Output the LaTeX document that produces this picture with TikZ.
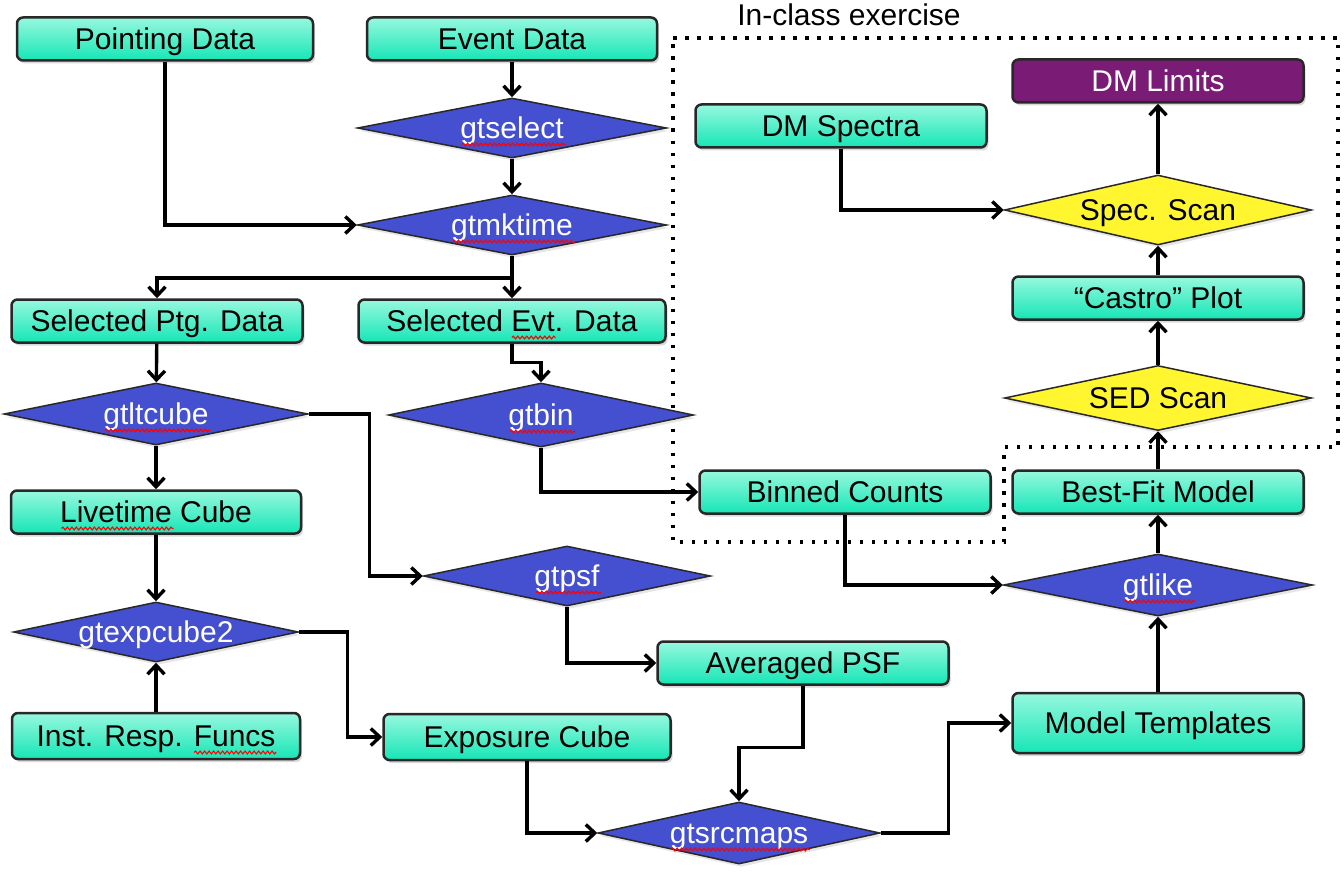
\documentclass[tikz,border=0pt]{standalone}
\usepackage{fontspec}
\setmainfont{Liberation Sans}
\usetikzlibrary{arrows.meta,positioning,shapes.geometric,shadows,decorations.pathmorphing}

\definecolor{boxtop}{RGB}{150,248,222}
\definecolor{boxbot}{RGB}{22,230,182}
\definecolor{toolblue}{RGB}{68,80,208}
\definecolor{scanyellow}{RGB}{255,246,48}
\definecolor{limitpurple}{RGB}{122,28,118}
\definecolor{edgegray}{RGB}{40,40,40}

\newcommand\labelfont{\fontsize{30}{32}\selectfont}
% red wavy spell-check mark under a word of a node
\newcommand\spellmark[3]{%
  \node[spellbox,anchor=base west] (pre) at (#1.text) {\phantom{#2}};
  \node[spellbox,anchor=base west] (word) at (pre.base east) {\phantom{#3}};
  \draw[spellwave] ([yshift=-6pt]word.base west) -- ([yshift=-6pt]word.base east);}

\begin{document}
\begin{tikzpicture}[
    x=1pt,y=-1pt,
    box/.style={draw=edgegray,line width=2.5pt,rounded corners=6pt,top color=boxtop,bottom color=boxbot,minimum width=291pt,minimum height=43pt,inner sep=0pt,text height=21pt,text depth=0pt,font=\labelfont,drop shadow={shadow xshift=2pt,shadow yshift=-3pt,opacity=.3}},
    tool/.style={diamond,aspect=5,draw=edgegray,line width=1.5pt,fill=toolblue,text=white,inner sep=0pt,text height=21pt,text depth=0pt,minimum width=309pt,minimum height=60pt,font=\labelfont,drop shadow={shadow xshift=2pt,shadow yshift=-3pt,opacity=.2}},
    scan/.style={tool,fill=scanyellow,text=black},
    arr/.style={-{Straight Barb[length=9pt,width=17pt]},line width=3.4pt},
    spellbox/.style={inner sep=0pt,font=\labelfont},
    spellwave/.style={red,line width=1.1pt,decorate,decoration={snake,amplitude=1.4pt,segment length=4.5pt}}
]
\useasboundingbox (0,0) rectangle (1344,872);

% in-class exercise region
\node[font=\labelfont] (title) at (849,15) {In-class exercise};
\draw[line width=3.5pt,dash pattern=on 3.5pt off 8.5pt] (673,38) -- (1338,38) -- (1338,447) -- (1004,447) -- (1004,542) -- (673,542) -- cycle;

% data preparation
\node[box,minimum width=296pt] (ptg) at (165,39) {Pointing Data};
\node[box,minimum width=290pt] (evt) at (512,39) {Event Data};
\node[tool] (select) at (512,128) {gtselect};
\node[tool] (mktime) at (512,225) {gtmktime};
\node[box] (selptg) at (157,321) {Selected Ptg. Data};
\node[box,minimum width=307pt] (selevt) at (512,321) {Selected Evt. Data};
\node[tool,minimum width=304pt,minimum height=62pt] (ltcube) at (156,414) {gtltcube};
\node[tool,minimum width=305pt,minimum height=64pt] (gtbin) at (541,415) {gtbin};
\node[box,minimum width=290pt] (live) at (156,512) {Livetime Cube};
\node[tool,minimum width=287pt] (gtpsf) at (567,576) {gtpsf};
\node[tool,minimum width=285pt] (expcube) at (156,632) {gtexpcube2};
\node[box] (avgpsf) at (803,663) {Averaged PSF};
\node[box,minimum width=288pt,minimum height=46pt] (irf) at (156,736) {Inst. Resp. Funcs};
\node[box,minimum width=287pt,minimum height=46pt] (expo) at (527,737) {Exposure Cube};
\node[tool,minimum width=282pt,minimum height=62pt] (srcmaps) at (739,833) {gtsrcmaps};

% likelihood and DM
\node[box] (binned) at (845,492) {Binned Counts};
\node[box] (bestfit) at (1158,492) {Best-Fit Model};
\node[tool,minimum height=62pt] (gtlike) at (1158,585) {gtlike};
\node[box,minimum height=60pt] (modtpl) at (1158,723) {Model Templates};
\node[box] (dmspec) at (841,126) {DM Spectra};
\node[box,top color=limitpurple,bottom color=limitpurple,text=white] (limits) at (1158,81) {DM Limits};
\node[scan,minimum width=307pt,minimum height=70pt] (specscan) at (1158,210) {Spec. Scan};
\node[box] (castro) at (1158,298) {“Castro” Plot};
\node[scan,minimum width=307pt,minimum height=65pt] (sedscan) at (1158,398) {SED Scan};

\spellmark{select}{}{gtselect}
\spellmark{mktime}{}{gtmktime}
\spellmark{selevt}{Selected }{Evt}
\spellmark{ltcube}{}{gtltcube}
\spellmark{gtbin}{}{gtbin}
\spellmark{live}{}{Livetime}
\spellmark{gtpsf}{}{gtpsf}
\spellmark{irf}{Inst. Resp. }{Funcs}
\spellmark{srcmaps}{}{gtsrcmaps}
\spellmark{gtlike}{}{gtlike}

\coordinate (split) at (512,278);

\draw[arr] (evt) -- (select);
\draw[arr] (select) -- (mktime);
\draw[arr] (ptg.south) |- (mktime.west);
\draw[arr] (mktime.south) -- (split) -| (selptg.north);
\draw[arr] (split) -- (selevt.north);
\draw[arr] (selptg) -- (ltcube);
\draw[arr] (selevt.south) -- ++(0,19) -| (gtbin.north);
\draw[arr] (ltcube) -- (live);
\draw[arr] (ltcube.east) -- ++(61,0) |- (gtpsf.west);
\draw[arr] (gtbin.south) |- (binned.west);
\draw[arr] (live) -- (expcube);
\draw[arr] (irf) -- (expcube);
\draw[arr] (expcube.east) -- ++(48,0) |- (expo.west);
\draw[arr] (gtpsf.south) |- (avgpsf.west);
\draw[arr] (avgpsf.south) -- ++(0,62) -| (srcmaps.north);
\draw[arr] (expo.south) |- (srcmaps.west);
\draw[arr] (srcmaps.east) -- ++(68,0) |- (modtpl.west);
\draw[arr] (binned.south) |- (gtlike.west);
\draw[arr] (modtpl) -- (gtlike);
\draw[arr] (gtlike) -- (bestfit);
\draw[arr] (bestfit) -- (sedscan);
\draw[arr] (sedscan) -- (castro);
\draw[arr] (castro) -- (specscan);
\draw[arr] (specscan) -- (limits);
\draw[arr] (dmspec.south) |- (specscan.west);
\end{tikzpicture}
\end{document}
